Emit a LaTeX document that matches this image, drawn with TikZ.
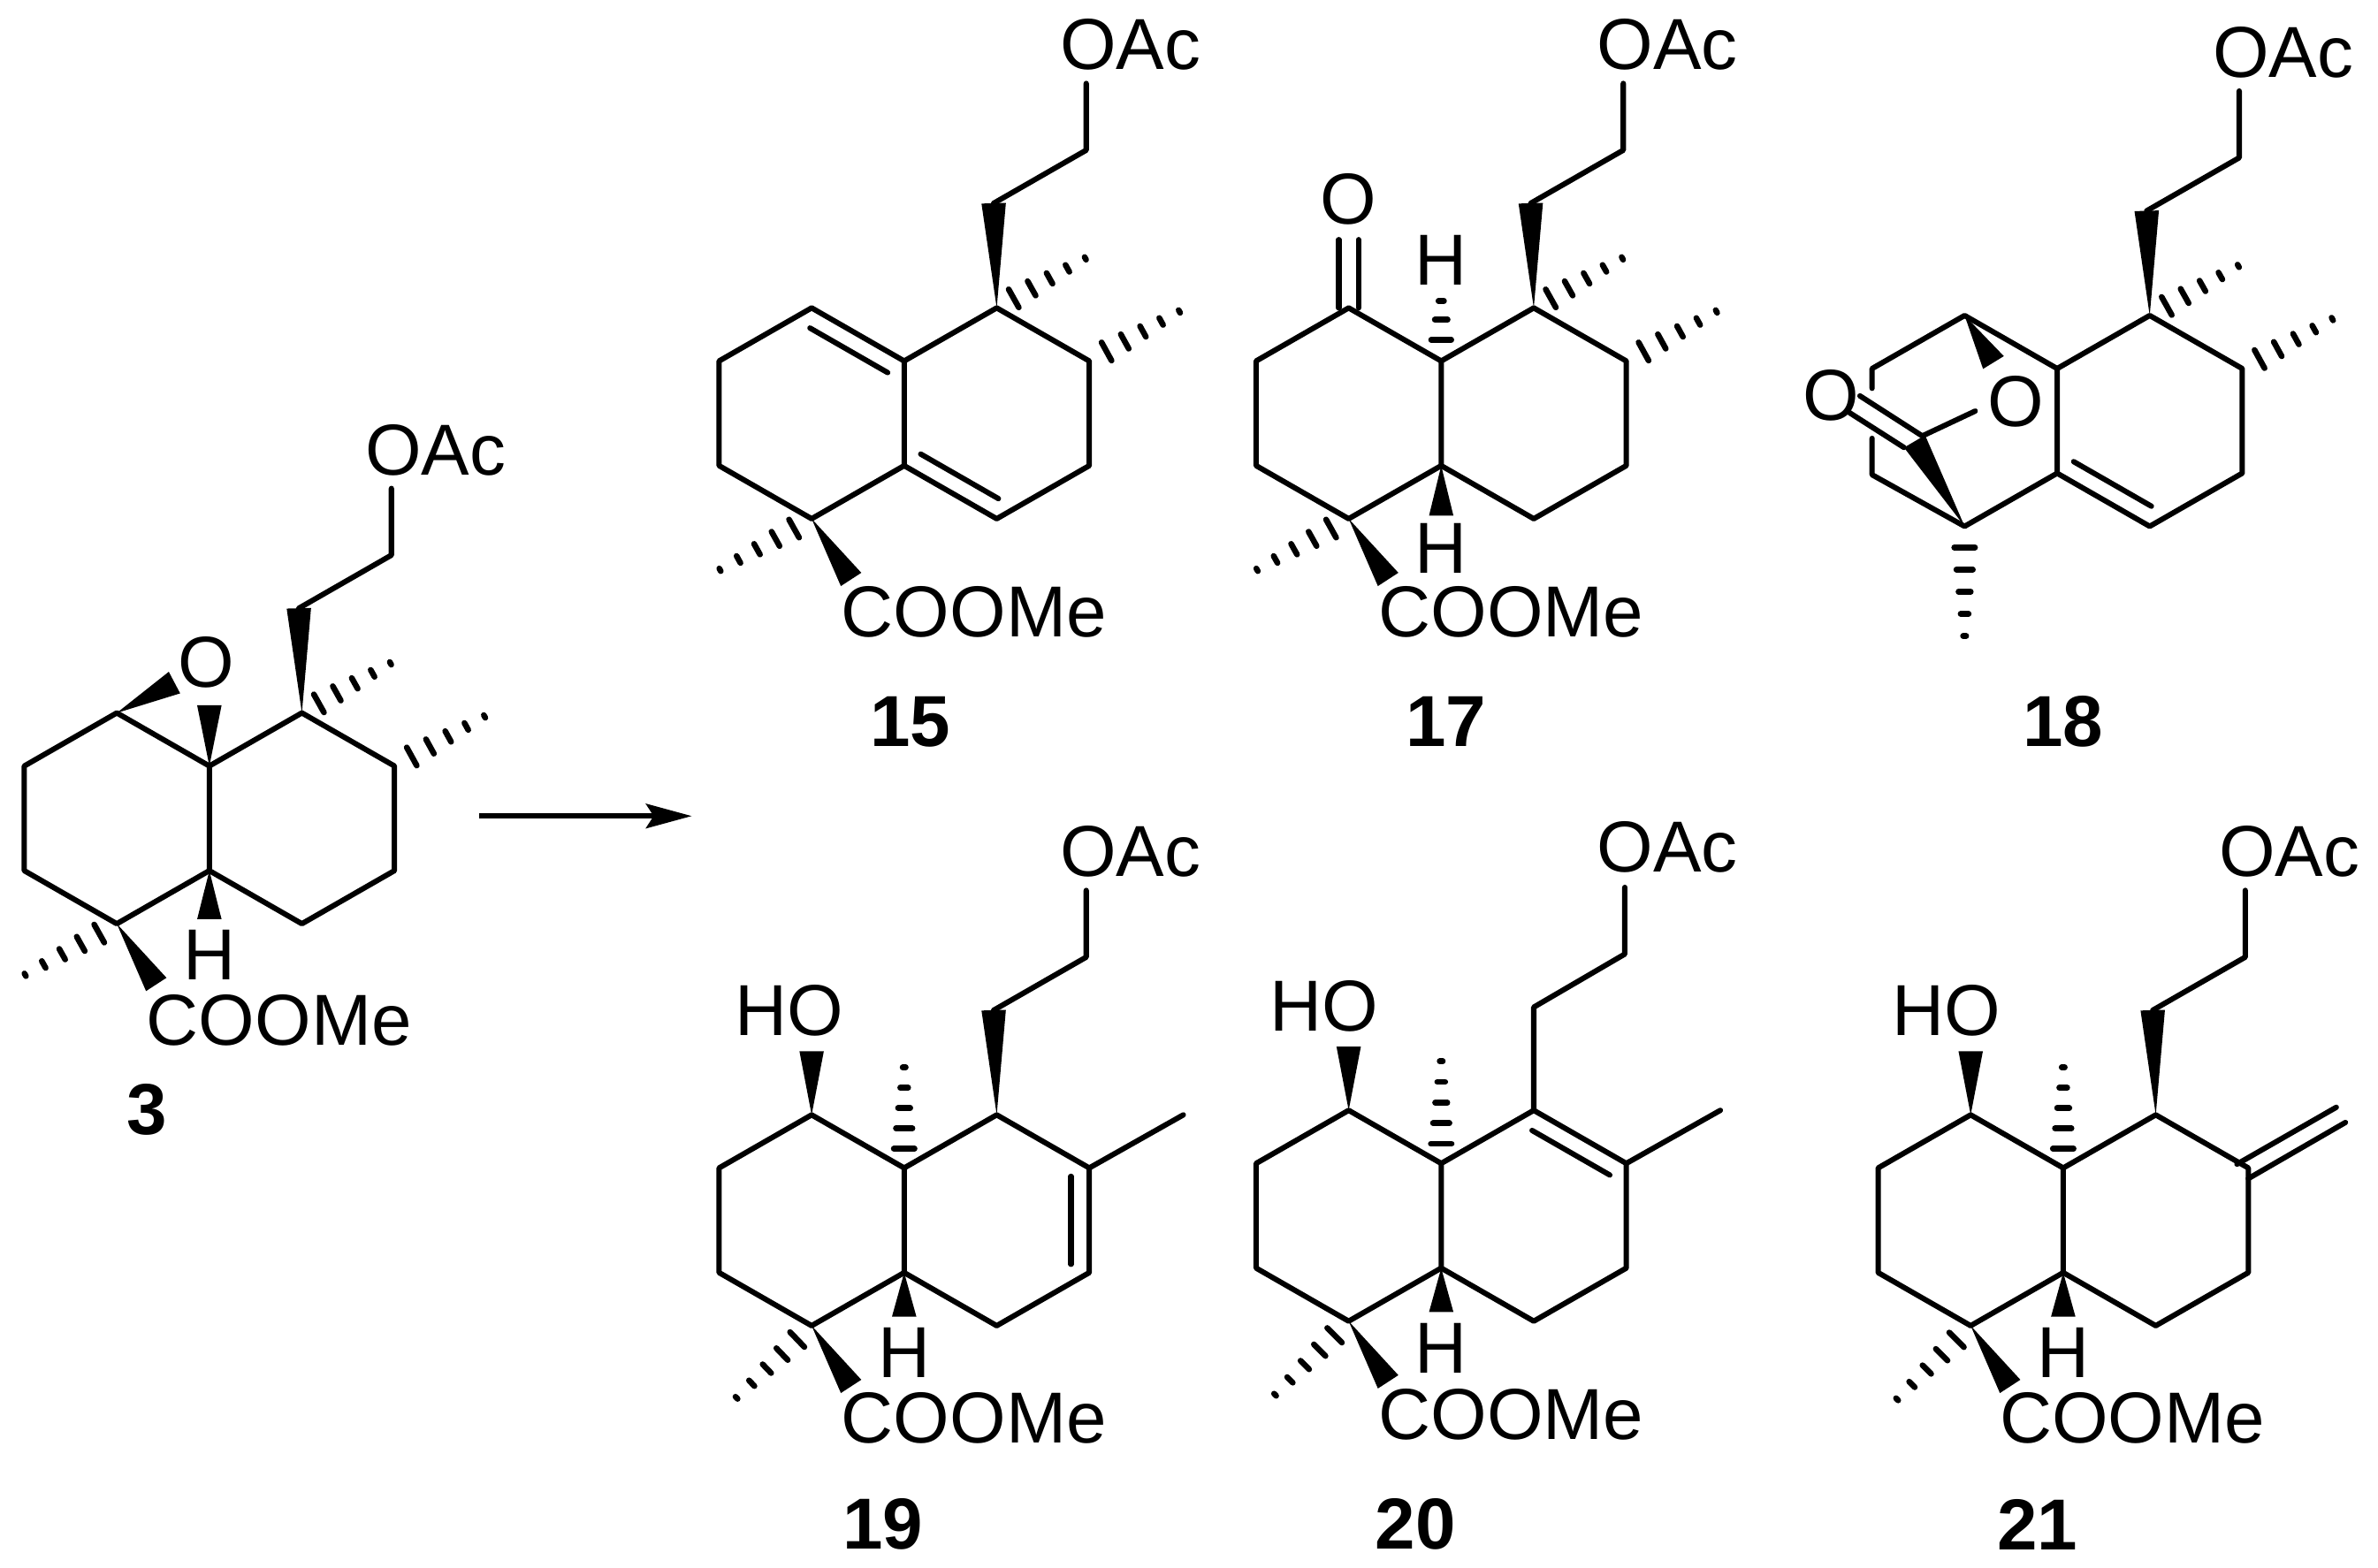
\documentclass[tikz,border=0pt]{standalone}
\usepackage{fontspec}
\setmainfont{Liberation Sans}
\usetikzlibrary{calc,arrows.meta}
\tikzset{
  bond/.style={line width=1.75pt,line cap=round,line join=round},
  hashline/.style={line width=1.9pt,line cap=round},
  atom/.style={inner sep=0pt,anchor=base,font=\fontsize{23.7pt}{28pt}\selectfont},
  cpd/.style={inner sep=0pt,anchor=base,font=\fontsize{23.7pt}{28pt}\selectfont\bfseries},
}
% solid wedge from narrow end #2 to wide end #3, half width #1
\newcommand\wdg[3][4pt]{\fill (#2) -- ($(#3)!#1!90:(#2)$) -- ($(#3)!#1!-90:(#2)$) -- cycle;}
% hashed wedge from #1 (broad strokes) to #2 (short strokes)
\newcommand\hsh[2]{\foreach \t/\w in {.19/3.4pt,.39/2.7pt,.59/2pt,.79/1.3pt,.99/.5pt}
  {\draw[hashline] ($(#1)!\t!(#2)!\w!90:(#1)$) -- ($(#1)!\t!(#2)!\w!-90:(#1)$);}}
\newcommand\hshshort[2]{\foreach \t/\w in {.35/3.3pt,.68/2.1pt,.99/.9pt}
  {\draw[hashline] ($(#1)!\t!(#2)!\w!90:(#1)$) -- ($(#1)!\t!(#2)!\w!-90:(#1)$);}}
% inner line of a double bond
\newcommand\ib[3]{\draw[bond] ($(#1)!.08!(#2)!6pt!#390:(#2)$) -- ($(#1)!.92!(#2)!6pt!-#390:(#1)$);}
% decalin frame coordinates: a,b ring fusion; c..f left ring; g..j right ring; methyls and chain
\newcommand\skel[3]{\begin{scope}[shift={(#2,#3)}]
  \coordinate (#1a) at (0,0);
  \coordinate (#1b) at (0,69);
  \coordinate (#1c) at (-61,-35);
  \coordinate (#1d) at (-122,0);
  \coordinate (#1e) at (-122,69);
  \coordinate (#1f) at (-61,104);
  \coordinate (#1g) at (61,-35);
  \coordinate (#1h) at (122,0);
  \coordinate (#1i) at (122,69);
  \coordinate (#1j) at (61,104);
  \coordinate (#1k) at (59,-104);
  \coordinate (#1l) at (120,-139);
  \coordinate (#1m) at (120,-183);
  \coordinate (#1n) at (120,-68);
  \coordinate (#1o) at (182,-33);
  \coordinate (#1p) at (-122,138);
  \coordinate (#1q) at (-35,144);
  \node[atom] (#1oac) at (149,-192) {OAc};
\end{scope}}
\newcommand\rightring[1]{\draw[bond] (#1a) -- (#1g) -- (#1h) -- (#1i) -- (#1j) -- (#1b) -- (#1a);}
\newcommand\leftring[1]{\draw[bond] (#1a) -- (#1c) -- (#1d) -- (#1e) -- (#1f) -- (#1b);}
\newcommand\chainup[1]{\draw[bond] (#1k) -- (#1l) -- (#1m);}
\begin{document}
\begin{tikzpicture}[x=0.4976pt,y=-0.4976pt]
\useasboundingbox (0,0) rectangle (1567.5,1033.2);
\fill[white] (0,0) rectangle (1567.5,1033.2);

% ---------- 3
\skel{A}{138}{505}
\rightring{A}\leftring{A}\chainup{A}
\wdg{Ag}{Ak}
\hsh{Ag}{An}
\hsh{Ah}{Ao}
\hsh{Af}{Ap}
\wdg{Af}{Aq}
\coordinate (Aw1) at (115,450);
\coordinate (Aw2) at (138,465);
\coordinate (Aw3) at (138,606);
\wdg{Ac}{Aw1}
\wdg{Aa}{Aw2}
\wdg{Ab}{Aw3}
\node[atom] (Ao1) at (136,453) {O};
\node[atom] (AH) at (138,646) {H};
\node[atom] (Acoo) at (184,689) {COOMe};
\node[cpd] (A3) at (97,748) {3};

% ---------- arrow
\coordinate (ar1) at (316,538);
\coordinate (ar2) at (456,538);
\draw[line width=1.7pt,-{Stealth[length=15pt,width=8pt,inset=2.5pt]}] (ar1) -- (ar2);

% ---------- 15
\skel{B}{596}{238}
\rightring{B}\leftring{B}\chainup{B}
\wdg{Bg}{Bk}
\hsh{Bg}{Bn}
\hsh{Bh}{Bo}
\hsh{Bf}{Bp}
\wdg{Bf}{Bq}
\ib{Bc}{Ba}{-}
\ib{Bb}{Bj}{}
\node[atom] (Bcoo) at (642,420) {COOMe};
\node[cpd] (B15) at (600,492) {15};

% ---------- 17
\skel{C}{950}{238}
\rightring{C}\leftring{C}\chainup{C}
\wdg{Cg}{Ck}
\hsh{Cg}{Cn}
\hsh{Ch}{Co}
\hsh{Cf}{Cp}
\wdg{Cf}{Cq}
\coordinate (Cx1) at (882.5,203);
\coordinate (Cx2) at (882.5,158);
\coordinate (Cx3) at (895.5,203);
\coordinate (Cx4) at (895.5,158);
\draw[bond] (Cx1) -- (Cx2) (Cx3) -- (Cx4);
\coordinate (Ch1) at (950,198);
\coordinate (Ch2) at (950,340);
\hshshort{Ca}{Ch1}
\wdg{Cb}{Ch2}
\node[atom] (Co1) at (889,148) {O};
\node[atom] (CH1) at (950,188) {H};
\node[atom] (CH2) at (950,378) {H};
\node[atom] (Ccoo) at (996,420) {COOMe};
\node[cpd] (C17) at (953,492) {17};

% ---------- 18
\skel{D}{1356}{243}
\rightring{D}\chainup{D}
\wdg{Dg}{Dk}
\hsh{Dg}{Dn}
\hsh{Dh}{Do}
\coordinate (Db1) at (1234,243);
\coordinate (Db2) at (1234,256);
\coordinate (Db3) at (1234,289);
\coordinate (Db4) at (1234,313);
\draw[bond] (Db2) -- (Db1) -- (Dc) -- (Da);
\draw[bond] (Db3) -- (Db4) -- (Df) -- (Db);
\ib{Db}{Dj}{}
\coordinate (Dw) at (1314,239);
\wdg{Dc}{Dw}
\coordinate (Dcc) at (1262,291);
\wdg{Df}{Dcc}
\coordinate (Do1e) at (1302,271);
\coordinate (Do2) at (1268,287);
\draw[bond] (Do1e) -- (Do2);
\coordinate (Dd1) at (1226,261);
\coordinate (Dd2) at (1268,288);
\coordinate (Dd3) at (1219,272);
\coordinate (Dd4) at (1255,295);
\draw[bond] (Dd1) -- (Dd2) (Dd3) -- (Dd4);
\coordinate (Dh) at (1295,420);
\hsh{Df}{Dh}
\node[atom] (Do3) at (1207,277) {O};
\node[atom] (Do4) at (1329,281) {O};
\node[cpd] (D18) at (1360,492) {18};

% ---------- 19
\skel{E}{596}{770}
\rightring{E}\leftring{E}\chainup{E}
\wdg{Eg}{Ek}
\coordinate (Em) at (780,735);
\draw[bond] (Eh) -- (Em);
\ib{Eh}{Ei}{-}
\coordinate (Eo1) at (535,693);
\wdg{Ec}{Eo1}
\coordinate (Ehm) at (596,703);
\hsh{Ea}{Ehm}
\coordinate (Eh2) at (596,868);
\wdg{Eb}{Eh2}
\coordinate (Ep2) at (485,922);
\hsh{Ef}{Ep2}
\wdg{Ef}{Eq}
\node[atom] (Eho) at (520,682.5) {HO};
\node[atom] (EH) at (596,908) {H};
\node[atom] (Ecoo) at (642,951) {COOMe};
\node[cpd] (E19) at (582,1021) {19};

% ---------- 20
\skel{F}{950}{767}
\rightring{F}\leftring{F}
\coordinate (Fk2) at (1011,664);
\coordinate (Fl2) at (1071,629);
\coordinate (Fm2) at (1071,585);
\draw[bond] (Fg) -- (Fk2) -- (Fl2) -- (Fm2);
\coordinate (Fme) at (1134,732);
\draw[bond] (Fh) -- (Fme);
\ib{Fg}{Fh}{-}
\coordinate (Fo1) at (889,690);
\wdg{Fc}{Fo1}
\coordinate (Fhm) at (950,699);
\hsh{Fa}{Fhm}
\coordinate (Fh2) at (950,865);
\wdg{Fb}{Fh2}
\coordinate (Fp2) at (840,920);
\hsh{Ff}{Fp2}
\wdg{Ff}{Fq}
\node[atom] (Fho) at (873,679.5) {HO};
\node[atom] (FH) at (950,905) {H};
\node[atom] (Fcoo) at (996,949) {COOMe};
\node[cpd] (F20) at (933,1021) {20};

% ---------- 21
\skel{G}{1360}{770}
\rightring{G}\leftring{G}\chainup{G}
\wdg{Gg}{Gk}
\coordinate (Gm0) at (1474.5,767.5);
\coordinate (Gm) at (1540,730);
\draw[bond] (Gm0) -- (Gm);
\coordinate (Gm1) at (1482,777);
\coordinate (Gm2) at (1546,740);
\draw[bond] (Gm1) -- (Gm2);
\coordinate (Go1) at (1299,693);
\wdg{Gc}{Go1}
\coordinate (Ghm) at (1360,703);
\hsh{Ga}{Ghm}
\coordinate (Gh2) at (1360,868);
\wdg{Gb}{Gh2}
\coordinate (Gp2) at (1250,923);
\hsh{Gf}{Gp2}
\wdg{Gf}{Gq}
\node[atom] (Gho) at (1283,682.5) {HO};
\node[atom] (GH) at (1360,908) {H};
\node[atom] (Gcoo) at (1405.5,951) {COOMe};
\node[cpd] (G21) at (1343,1022) {21};
\end{tikzpicture}
\end{document}
